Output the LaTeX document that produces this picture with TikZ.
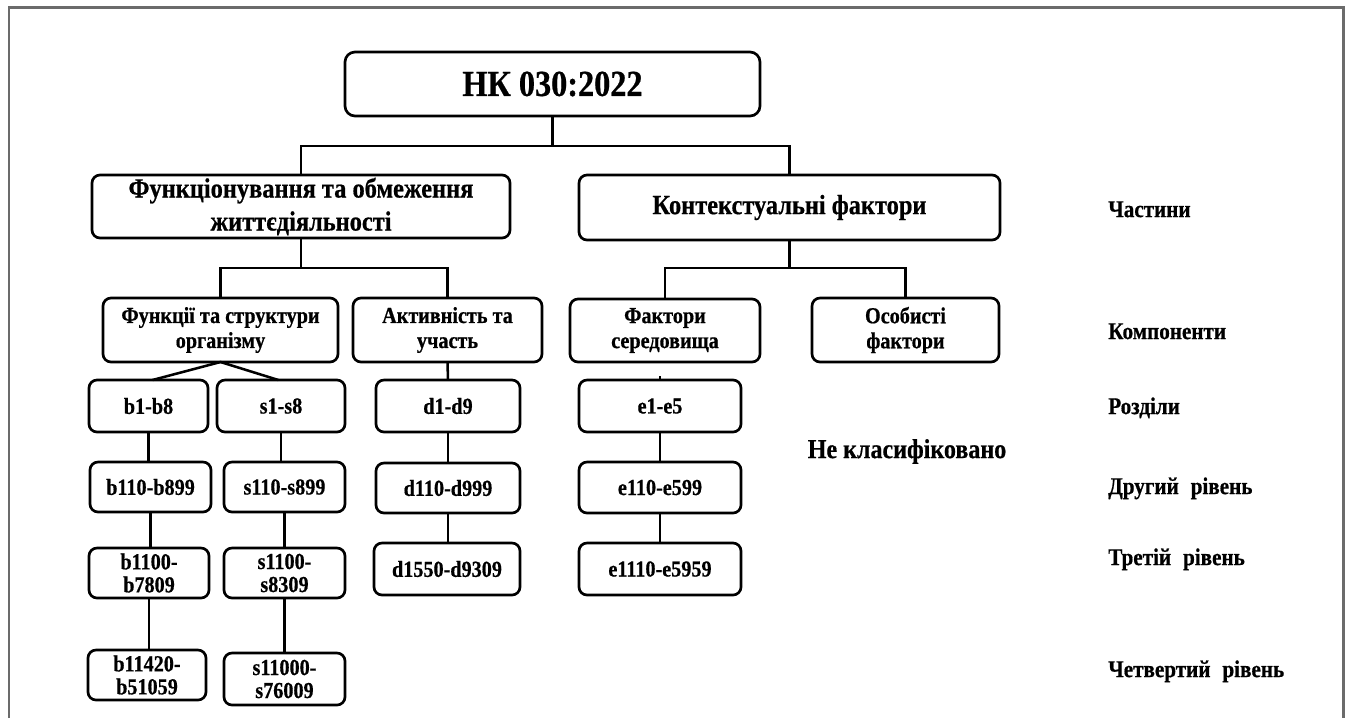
\documentclass[tikz,border=0pt]{standalone}
\usepackage{fontspec}
\setmainfont{Liberation Serif}
\newfontfamily\condfont[FakeStretch=0.88, BoldFeatures={FakeBold=0.6}]{Liberation Serif}
\definecolor{framegray}{HTML}{6B6B6B}
\begin{document}
\begin{tikzpicture}[x=0.75pt,y=-0.75pt,
  box/.style={draw, line width=2pt, rounded corners=6pt, inner sep=0pt,
    outer sep=0pt, align=center},
  sz/.style 2 args={minimum width=#1*0.75pt, minimum height=#2*0.75pt},
  titlebox/.style={box, rounded corners=7.5pt,
    font=\condfont\bfseries\fontsize{27.5}{31}\selectfont},
  partbox/.style={box, font=\condfont\bfseries\fontsize{20.8}{24.75}\selectfont},
  compbox/.style={box, font=\condfont\bfseries\fontsize{17.2}{18.75}\selectfont},
  leafbox/.style={box, font=\condfont\bfseries\fontsize{17.2}{17.25}\selectfont},
  lvl/.style={anchor=mid west, inner sep=0pt,
    font=\condfont\bfseries\fontsize{18}{21}\selectfont},
  link/.style={line width=1.9pt},
]
\useasboundingbox[fill=white] (0,0) rectangle (1348,718);
% outer frame (open at the bottom edge)
\draw[framegray, line width=2pt] (9,718) -- (9,7.5) -- (1343.5,7.5) -- (1343.5,718);

% root and parts
\node[titlebox, sz={415}{64}] (title) at (552.5,84) {НК 030:2022};
\node[partbox, sz={418}{63}] (func) at (301,206.5)
  {Функціонування та обмеження\\життєдіяльності};
\node[partbox, sz={421}{65}] (ctx) at (789.5,207.5) {Контекстуальні фактори};

% components
\node[compbox, sz={235}{64}] (body) at (220.5,330) {Функції та структури\\організму};
\node[compbox, sz={189}{64}] (act) at (447.5,330) {Активність та\\участь};
\node[compbox, sz={190}{63}] (env) at (665,330.5) {Фактори\\середовища};
\node[compbox, sz={187}{64}] (pers) at (905.5,330) {Особисті\\фактори};

% chapters
\node[leafbox, sz={119}{52}] (b1) at (148.5,406) {b1-b8};
\node[leafbox, sz={128}{52}] (s1) at (281,406) {s1-s8};
\node[leafbox, sz={144}{52}] (d1) at (448,406) {d1-d9};
\node[leafbox, sz={162}{52}] (e1) at (660,406) {e1-e5};

% second level
\node[leafbox, sz={121}{50}] (b2) at (150.5,487) {b110-b899};
\node[leafbox, sz={121}{50}] (s2) at (284.5,487) {s110-s899};
\node[leafbox, sz={144}{50}] (d2) at (448,488) {d110-d999};
\node[leafbox, sz={162}{51}] (e2) at (660,487.5) {e110-e599};

% third level
\node[leafbox, sz={120}{50}] (b3) at (149,573) {b1100-\\b7809};
\node[leafbox, sz={121}{50}] (s3) at (284.5,573) {s1100-\\s8309};
\node[leafbox, sz={146}{52}] (d3) at (447,569) {d1550-d9309};
\node[leafbox, sz={162}{52}] (e3) at (660,569) {e1110-e5959};

% fourth level
\node[leafbox, sz={118}{50}] (b4) at (147,675) {b11420-\\b51059};
\node[leafbox, sz={121}{52}] (s4) at (284.5,679) {s11000-\\s76009};

% connectors
\coordinate (busA) at (0,146);
\coordinate (busB) at (0,268);
\draw[link] (title.south) -- (title.south |- busA);
\draw[link] (func.north) |- (busA -| ctx.north) -- (ctx.north);
\draw[link] (func.south) -- (func.south |- busB);
\draw[link] (body.north) |- (busB -| act.north) -- (act.north);
\draw[link] (ctx.south) -- (ctx.south |- busB);
\draw[link] (env.north) |- (busB -| pers.north) -- (pers.north);
\draw[link] ([xshift=3pt]b1.north) -- (body.south) -- ([xshift=-2pt]s1.north);
\draw[link] (act.south) -- (d1.north);
\draw[link] (e1.north) -- ++(0,-4);
\draw[link] (b1.south) -- (b1.south |- b2.north);
\draw[link] (b2.south) -- (b2.south |- b3.north);
\draw[link] (b3.south) -- (b3.south |- b4.north);
\draw[link] (s1.south) -- (s1.south |- s2.north);
\draw[link] (s2.south) -- (s2.south |- s3.north);
\draw[link] (s3.south) -- (s3.south |- s4.north);
\draw[link] (d1.south) -- (d1.south |- d2.north);
\draw[link] (d2.south) -- (d2.south |- d3.north);
\draw[link] (e1.south) -- (e1.south |- e2.north);
\draw[link] (e2.south) -- (e2.south |- e3.north);

% note and level labels
\node[anchor=mid, inner sep=0pt, font=\condfont\bfseries\fontsize{20.5}{24}\selectfont]
  (nc) at (907,455) {Не класифіковано};
\node[lvl] (lv1) at (1108,214) {Частини};
\node[lvl] (lv2) at (1108,336) {Компоненти};
\node[lvl] (lv3) at (1108,411) {Розділи};
\node[lvl] (lv4) at (1108,491) {Другий\hspace{0.5em}рівень};
\node[lvl] (lv5) at (1108,562) {Третій\hspace{0.5em}рівень};
\node[lvl] (lv6) at (1108,674) {Четвертий\hspace{0.5em}рівень};
\end{tikzpicture}
\end{document}
